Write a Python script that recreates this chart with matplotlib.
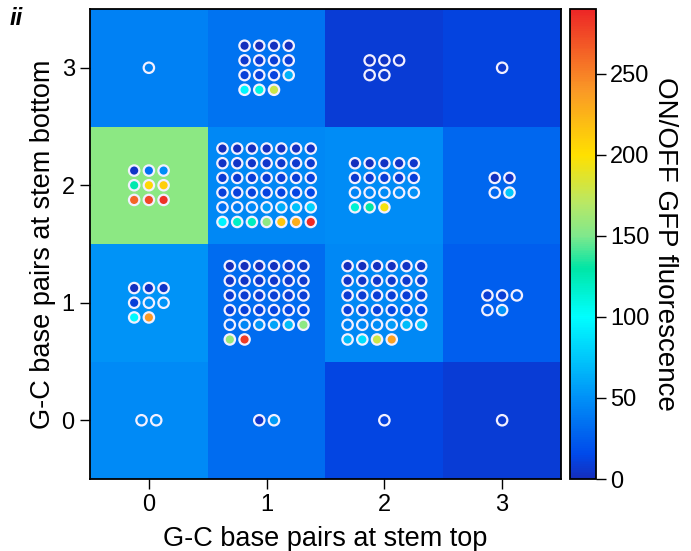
"""
Heatmap of ON/OFF GFP fluorescence vs. G-C base pairs at stem top / bottom,
with the individual designs drawn as small dots inside each cell.
"""

import math

import matplotlib

matplotlib.use("Agg")
import matplotlib.pyplot as plt
import numpy as np
from matplotlib.colors import LinearSegmentedColormap, Normalize

plt.rcParams["font.family"] = ["Liberation Sans", "DejaVu Sans"]

# --- data -----------------------------------------------------------------
top_ticks = [0, 1, 2, 3]
bottom_ticks = [0, 1, 2, 3]

# mean ON/OFF per cell, rows = stem bottom (0..3), cols = stem top (0..3)
cell_mean = [
    [47, 32, 13, 8],     # bottom 0
    [52, 32, 46, 25],    # bottom 1
    [155, 46, 48, 30],   # bottom 2
    [42, 36, 9, 12],     # bottom 3
]

# individual designs in each cell, keyed by (top, bottom)
dot_values = {
    (0, 3): [42],
    (1, 3): [1, 1, 2, 2, 6, 7, 8, 9, 10, 11, 12, 65, 97, 110, 178],
    (2, 3): [3, 4, 4, 5, 6],
    (3, 3): [6],
    (0, 2): [4, 35, 48, 128, 205, 210, 262, 275, 285],
    (1, 2): [1, 1, 1, 2, 2, 2, 3,
             3, 4, 4, 5, 5, 6, 6,
             7, 7, 8, 8, 9, 9, 10,
             10, 11, 11, 12, 12, 13, 14,
             35, 40, 46, 55, 63, 72, 80,
             95, 120, 122, 155, 215, 228, 288],
    (2, 2): [1, 2, 3, 4, 5, 6, 7, 8, 9, 10,
             44, 46, 47, 48, 50, 115, 130, 195],
    (3, 2): [2, 4, 30, 75],
    (0, 1): [2, 3, 4, 10, 50, 52, 98, 240],
    (1, 1): [1, 1, 2, 2, 3, 3, 4, 4, 5, 5, 6, 6,
             7, 7, 8, 8, 9, 9, 10, 10, 11, 12, 13, 14,
             30, 45, 52, 58, 70, 155, 158, 280],
    (2, 1): [1, 1, 2, 2, 3, 3, 4, 4, 5, 5, 6, 6,
             7, 7, 8, 8, 9, 9, 10, 10, 11, 12, 13, 14,
             44, 46, 48, 55, 70, 75, 70, 85, 178, 235],
    (3, 1): [8, 9, 25, 26, 52],
    (0, 0): [46, 48],
    (1, 0): [4, 55],
    (2, 0): [12],
    (3, 0): [7],
}
dot_cols = {
    (0, 3): 1, (1, 3): 4, (2, 3): 3, (3, 3): 1,
    (0, 2): 3, (1, 2): 7, (2, 2): 5, (3, 2): 2,
    (0, 1): 3, (1, 1): 6, (2, 1): 6, (3, 1): 3,
    (0, 0): 2, (1, 0): 2, (2, 0): 1, (3, 0): 1,
}

cbar_ticks = [0, 50, 100, 150, 200, 250]
vmin, vmax = 0, 290

# jet-like map with a lighter blue floor and a pastel green middle
cmap = LinearSegmentedColormap.from_list("gfp", [
    (0 / 290, (0.08, 0.18, 0.74)),
    (15 / 290, (0.00, 0.29, 0.92)),
    (50 / 290, (0.00, 0.57, 0.97)),
    (100 / 290, (0.00, 1.00, 1.00)),
    (130 / 290, (0.00, 0.90, 0.65)),
    (150 / 290, (0.50, 0.91, 0.55)),
    (170 / 290, (0.72, 0.91, 0.40)),
    (200 / 290, (1.00, 0.88, 0.00)),
    (240 / 290, (0.98, 0.60, 0.15)),
    (290 / 290, (0.93, 0.15, 0.15)),
])
norm = Normalize(vmin=vmin, vmax=vmax)

# --- figure ---------------------------------------------------------------
W, H = 691, 551
fig = plt.figure(figsize=(W / 100, H / 100), dpi=100)
ax = fig.add_axes([90 / W, (H - 479) / H, 471 / W, 470 / H])
cax = fig.add_axes([570 / W, (H - 479) / H, 26 / W, 470 / H])

ax.imshow(np.array(cell_mean), cmap=cmap, norm=norm, origin="lower",
          extent=(-0.5, 3.5, -0.5, 3.5), aspect="auto", interpolation="nearest")

step = 0.125
xs, ys, vs = [], [], []
for (cx, cy), vals in dot_values.items():
    n = dot_cols[(cx, cy)]
    rows = math.ceil(len(vals) / n)
    for k, v in enumerate(vals):
        i, j = divmod(k, n)
        xs.append(cx + (j - (n - 1) / 2) * step)
        ys.append(cy + ((rows - 1) / 2 - i) * step)
        vs.append(v)
ax.scatter(xs, ys, c=vs, cmap=cmap, norm=norm, s=56,
           edgecolors="#f2f0ff", linewidths=1.6, zorder=3)

ax.set_xlim(-0.5, 3.5)
ax.set_ylim(-0.5, 3.5)
ax.set_xticks(top_ticks)
ax.set_yticks(bottom_ticks)
ax.tick_params(direction="out", length=7, width=1, labelsize=17, pad=4)
ax.set_xlabel("G-C base pairs at stem top", fontsize=19.5, labelpad=7)
ax.set_ylabel("G-C base pairs at stem bottom", fontsize=19.5, labelpad=4)
for sp in ax.spines.values():
    sp.set_linewidth(1.3)

cb = fig.colorbar(plt.cm.ScalarMappable(norm=norm, cmap=cmap), cax=cax)
cb.set_ticks(cbar_ticks)
cb.outline.set_linewidth(1.3)
cax.tick_params(direction="out", length=7, width=1, labelsize=17, pad=3)
cb.set_label("ON/OFF GFP fluorescence", fontsize=20, rotation=270, labelpad=21)

fig.text(0.014, 0.967, "ii", fontsize=17, fontweight="bold", style="italic",
         ha="left", va="center")

fig.savefig("out.png", dpi=100)
